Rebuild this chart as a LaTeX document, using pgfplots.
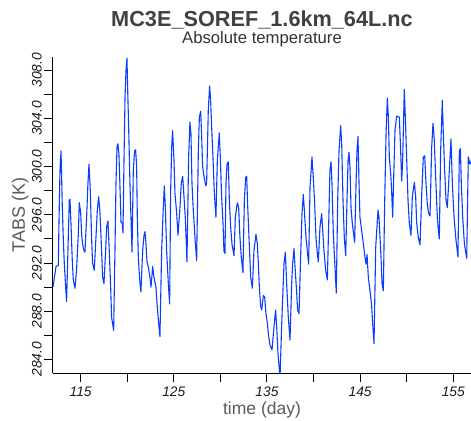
\documentclass[border=0pt]{standalone}
\usepackage{fontspec}
\setmainfont{Liberation Sans}
\usepackage{pgfplots}
\pgfplotsset{compat=1.18}
\usepackage{pgfplotstable}
\definecolor{linecol}{RGB}{10,60,255}
\definecolor{titlegray}{RGB}{64,64,64}
\definecolor{subgray}{RGB}{51,51,51}
\definecolor{labelgray}{RGB}{90,90,90}
\definecolor{tickgray}{RGB}{26,26,26}
\pgfplotstableread{
x y
112.03 290.0
112.35 291.7
112.60 291.8
112.67 295.3
112.78 299.7
112.89 301.3
113.03 296.6
113.14 293.9
113.24 292.0
113.39 290.0
113.49 288.8
113.67 294.1
113.78 297.2
113.85 297.3
113.96 295.3
114.10 292.2
114.21 290.6
114.39 289.9
114.57 291.6
114.75 294.4
114.85 297.0
115.00 296.2
115.10 294.4
115.21 293.6
115.32 293.1
115.46 292.9
115.64 295.8
115.78 298.6
115.89 300.2
116.03 298.1
116.18 293.9
116.28 292.0
116.46 291.4
116.64 294.1
116.79 296.4
116.93 297.5
117.07 296.2
117.25 293.0
117.36 290.8
117.50 290.3
117.68 293.0
117.79 295.0
117.93 295.5
118.07 293.0
118.22 290.0
118.32 287.5
118.54 286.4
118.68 293.0
118.79 298.6
118.90 301.6
119.00 301.9
119.11 301.0
119.22 298.3
119.33 295.4
119.47 295.3
119.54 294.5
119.65 300.5
119.76 305.7
119.86 307.9
119.97 309.0
120.04 306.6
120.15 303.3
120.29 298.6
120.40 295.8
120.51 292.9
120.65 299.7
120.79 301.3
120.90 301.4
121.01 300.0
121.08 295.8
121.19 292.5
121.33 290.6
121.47 289.6
121.65 293.0
121.80 294.3
121.90 294.6
122.01 293.6
122.12 292.1
122.26 291.7
122.44 290.8
122.55 290.0
122.73 291.7
122.87 290.8
123.08 290.0
123.23 288.3
123.37 287.0
123.51 285.9
123.69 293.0
123.87 296.6
123.98 298.4
124.09 296.6
124.23 293.0
124.41 290.3
124.55 288.6
124.66 298.0
124.77 301.6
124.87 303.0
125.02 300.5
125.12 297.8
125.30 296.2
125.45 294.3
125.66 296.6
125.80 298.6
125.95 299.2
126.09 297.5
126.23 295.8
126.41 292.1
126.59 300.8
126.73 303.7
126.84 302.7
126.95 298.6
127.09 296.4
127.27 294.1
127.45 292.2
127.63 301.3
127.74 304.1
127.88 304.6
127.99 302.5
128.09 300.0
128.20 299.4
128.42 298.4
128.52 298.6
128.70 304.7
128.84 306.7
128.95 305.5
129.06 303.3
129.24 300.0
129.35 297.8
129.45 296.6
129.52 295.8
129.67 300.5
129.88 302.8
129.99 300.8
130.13 297.5
130.28 295.3
130.38 293.0
130.49 292.8
130.60 298.6
130.71 300.2
130.85 300.4
130.96 297.2
131.10 295.0
131.24 293.6
131.46 292.6
131.60 295.8
131.82 297.0
131.96 296.6
132.10 294.1
132.24 292.5
132.42 291.2
132.57 297.2
132.71 299.1
132.82 299.2
132.92 296.9
133.07 294.1
133.25 290.8
133.43 289.9
133.60 293.0
133.82 294.4
133.96 293.6
134.07 292.0
134.18 290.0
134.32 288.4
134.43 288.1
134.61 289.3
134.75 289.2
134.89 287.8
135.04 287.0
135.18 285.9
135.32 285.2
135.54 284.8
135.75 286.7
135.93 288.1
136.04 286.7
136.18 284.5
136.40 282.5
136.57 286.7
136.68 289.0
136.83 292.0
136.97 292.9
137.11 290.3
137.29 287.5
137.47 285.6
137.65 290.3
137.76 292.0
137.90 293.2
138.01 291.7
138.19 289.5
138.29 288.1
138.44 287.8
138.61 292.5
138.76 296.1
138.90 297.7
139.01 296.4
139.19 294.1
139.33 293.0
139.47 291.9
139.62 298.3
139.83 300.8
139.97 299.1
140.12 296.9
140.26 294.1
140.40 292.8
140.51 292.1
140.69 295.0
140.87 296.1
140.98 294.7
141.12 293.0
141.30 291.4
141.48 290.6
141.66 296.4
141.76 299.7
141.87 300.4
141.98 298.6
142.12 294.4
142.30 291.7
142.44 289.5
142.59 297.2
142.73 301.3
142.91 303.4
143.02 301.9
143.16 297.2
143.30 294.1
143.45 292.6
143.59 297.2
143.70 300.5
143.80 301.2
143.91 299.9
144.02 296.6
144.16 295.3
144.41 293.7
144.56 298.6
144.66 301.3
144.77 302.5
144.88 298.6
144.98 295.8
145.16 294.7
145.34 293.6
145.52 292.5
145.63 291.9
145.74 292.7
145.88 290.8
146.06 289.7
146.24 288.4
146.34 287.0
146.49 285.3
146.67 293.3
146.92 296.4
147.02 295.8
147.24 292.5
147.35 290.3
147.49 289.7
147.63 296.9
147.78 302.7
147.92 305.7
148.03 304.1
148.13 300.8
148.28 299.4
148.38 298.0
148.49 295.8
148.63 299.9
148.74 303.0
148.92 304.2
149.21 304.1
149.35 301.3
149.46 298.8
149.56 300.5
149.74 306.4
149.85 304.1
149.99 300.8
150.14 297.2
150.28 295.3
150.46 294.3
150.60 297.5
150.82 298.7
150.96 297.5
151.07 295.3
151.25 294.1
151.43 293.5
151.60 297.5
151.78 300.8
151.93 300.9
152.07 298.6
152.21 296.9
152.36 296.1
152.50 295.9
152.68 301.6
152.82 303.6
152.96 302.2
153.11 299.1
153.25 296.4
153.36 295.0
153.50 294.0
153.64 301.3
153.82 305.5
153.93 302.7
154.07 299.7
154.22 297.2
154.36 296.6
154.50 298.6
154.75 302.3
154.90 298.6
155.08 295.8
155.29 293.9
155.50 292.5
155.65 301.3
155.76 301.5
155.86 298.6
156.01 295.8
156.19 293.6
156.44 292.4
156.61 300.8
156.79 300.2
156.95 300.5
}\tabsdata

\begin{document}
\begin{tikzpicture}
\path[use as bounding box] (-53bp,-48bp) rectangle (418bp,373bp);
\begin{axis}[
  at={(0,0)}, anchor=south west,
  scale only axis, width=418bp, height=316bp,
  xmin=112.03, xmax=156.9, ymin=282.87, ymax=309.1,
  axis x line*=bottom, axis y line*=left,
  axis line style={line width=1bp, black},
  tick align=outside,
  major tick length=9bp, minor tick length=9bp,
  every tick/.style={line width=1bp, black},
  xtick={115,125,135,145,155}, minor xtick={120,130,140,150},
  xticklabels={115,125,135,145,155},
  ytick={284,288,292,296,300,304,308}, minor ytick={286,290,294,298,302,306},
  yticklabels={284.0,288.0,292.0,296.0,300.0,304.0,308.0},
  xticklabel style={font=\itshape\fontsize{13.8bp}{16bp}\selectfont, text=tickgray, anchor=base, yshift=-14.7bp},
  yticklabel style={font=\itshape\fontsize{13.8bp}{16bp}\selectfont, text=tickgray, xshift=-2.3bp, rotate=90, anchor=base},
  xlabel={time (day)},
  xlabel style={font=\fontsize{17.5bp}{20bp}\selectfont, text=labelgray, at={(axis description cs:0.5,0)}, anchor=base, yshift=-41bp},
  ylabel={TABS (K)},
  ylabel style={font=\fontsize{18bp}{20bp}\selectfont, text=labelgray, at={(axis description cs:-0.067,0.5)}, anchor=base, rotate=0},
]
\addplot[linecol, line width=1.1bp, line join=round] table[x=x,y=y] {\tabsdata};
\end{axis}
\node[anchor=base, font=\bfseries\fontsize{21.7bp}{24bp}\selectfont, text=titlegray] at (209bp,346.3bp) {MC3E\_SOREF\_1.6km\_64L.nc};
\node[anchor=base, font=\fontsize{16.7bp}{19bp}\selectfont, text=subgray] at (209bp,329.7bp) {Absolute temperature};
\end{tikzpicture}
\end{document}
